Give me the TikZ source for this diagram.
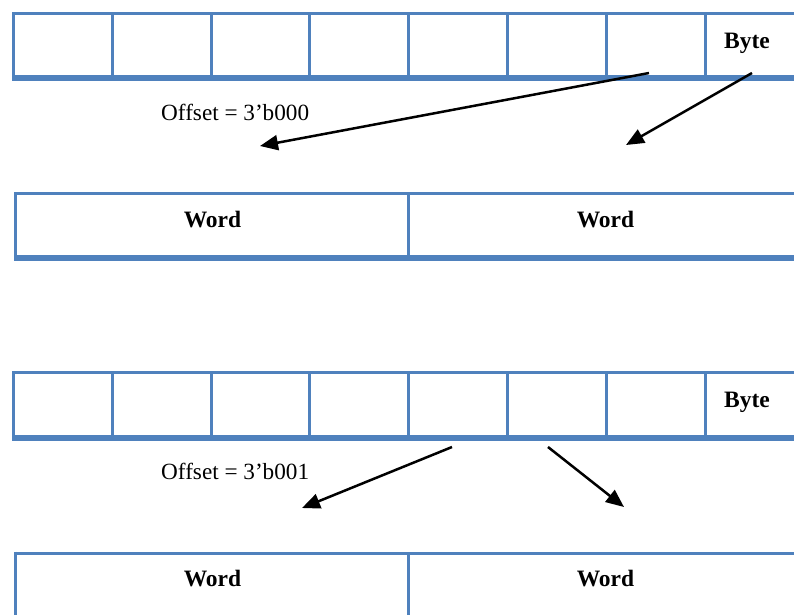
\documentclass[tikz,border=0pt]{standalone}
\usepackage{fontspec}
\setmainfont{Liberation Serif}
\usetikzlibrary{arrows.meta}
\definecolor{tblblue}{HTML}{4F81BD}
\tikzset{
  thinrule/.style={draw=tblblue, line width=3pt},
  thickrule/.style={draw=tblblue, line width=6pt},
  cellword/.style={font=\fontsize{23.5}{28}\selectfont\bfseries, anchor=base, inner sep=0pt},
  offlabel/.style={font=\fontsize{23.2}{28}\selectfont, anchor=base west, inner sep=0pt},
  pointer/.style={line width=2.5pt, -{Triangle[length=18pt,width=15pt]}},
}
\begin{document}
\begin{tikzpicture}[x=1pt,y=-1pt]
\useasboundingbox (0,0) rectangle (794,614);
\clip (0,0) rectangle (794,614);

% ---------- Top half ----------
% byte row
\draw[thinrule] (12,13.5) -- (800,13.5);
\foreach \cx in {13.5,112.3,211.1,309.9,408.7,507.5,606.3,705.1}
  \draw[thinrule] (\cx,13.5) -- (\cx,76);
\draw[thickrule] (12,78) -- (800,78);
\node[cellword] (byteA) at (747,48) {Byte};

% word row
\draw[thinrule] (14,193.5) -- (800,193.5);
\draw[thinrule] (15.5,192) -- (15.5,256);
\draw[thinrule] (408.5,193.5) -- (408.5,256);
\draw[thickrule] (14,258) -- (800,258);
\node[cellword] (wordA1) at (212.5,227) {Word};
\node[cellword] (wordA2) at (605.5,227) {Word};

\node[offlabel] (offA) at (161,120) {Offset = 3’b000};

\coordinate (a1s) at (649,73);
\coordinate (a1e) at (260,146);
\coordinate (a2s) at (752,73);
\coordinate (a2e) at (626,145);
\draw[pointer] (a1s) -- (a1e);
\draw[pointer] (a2s) -- (a2e);

% ---------- Bottom half ----------
\draw[thinrule] (12,372.5) -- (800,372.5);
\foreach \cx in {13.5,112.3,211.1,309.9,408.7,507.5,606.3,705.1}
  \draw[thinrule] (\cx,372.5) -- (\cx,436);
\draw[thickrule] (12,438) -- (800,438);
\node[cellword] (byteB) at (747,407) {Byte};

\draw[thinrule] (14,553) -- (800,553);
\draw[thinrule] (15.5,551.5) -- (15.5,620);
\draw[thinrule] (408.5,553) -- (408.5,620);
\node[cellword] (wordB1) at (212.5,586.5) {Word};
\node[cellword] (wordB2) at (605.5,586.5) {Word};

\node[offlabel] (offB) at (161,479) {Offset = 3’b001};

\coordinate (b1s) at (452,447);
\coordinate (b1e) at (302,508);
\coordinate (b2s) at (548,447);
\coordinate (b2e) at (624,507);
\draw[pointer] (b1s) -- (b1e);
\draw[pointer] (b2s) -- (b2e);
\end{tikzpicture}
\end{document}
